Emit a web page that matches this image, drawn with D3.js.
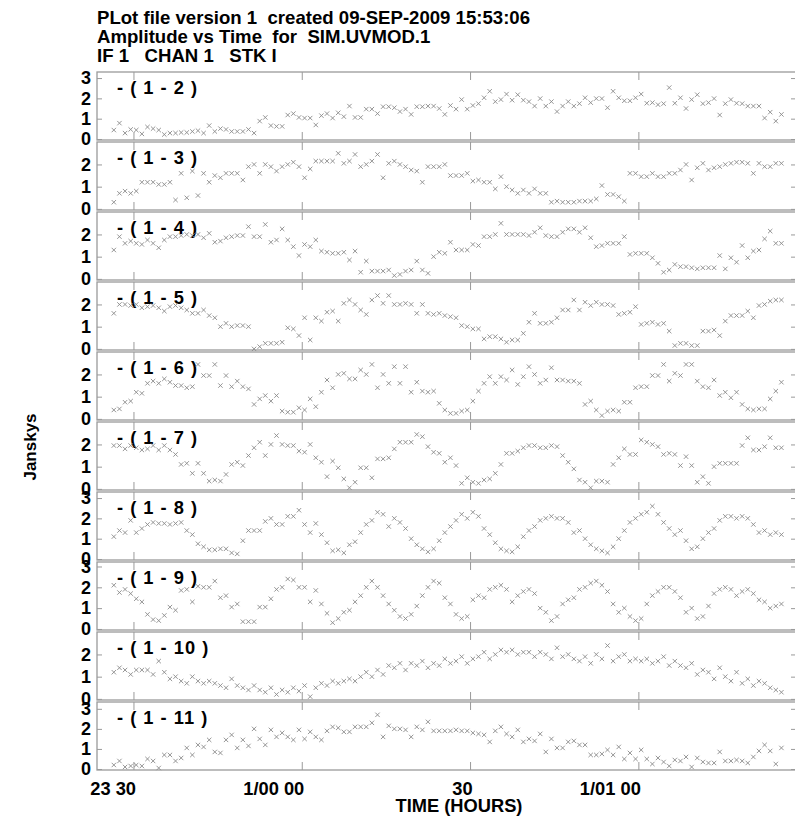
<!DOCTYPE html>
<html><head><meta charset="utf-8">
<script src="https://cdn.jsdelivr.net/npm/d3@7"></script>
<style>
body{margin:0;background:#fff}
text{font-family:"Liberation Sans",Arial,Helvetica,sans-serif;font-weight:bold;fill:#000}
</style>
</head><body><svg id="c" width="795" height="818"></svg>
<script>
const titleLines = [
  "PLot file version 1  created 09-SEP-2009 15:53:06",
  "Amplitude vs Time  for  SIM.UVMOD.1",
  "IF 1   CHAN 1   STK I"
];
const baselines = ["- ( 1 - 2 )","- ( 1 - 3 )","- ( 1 - 4 )","- ( 1 - 5 )","- ( 1 - 6 )","- ( 1 - 7 )","- ( 1 - 8 )","- ( 1 - 9 )","- ( 1 - 10 )","- ( 1 - 11 )"];
const panelMax = [3.2, 2.92, 2.92, 2.92, 2.92, 2.92, 3.2, 3.12, 2.92, 3.24];
const yMin = -0.05;
// time in minutes relative to 23:30
const timeStart = -6.5, timeEnd = 118.1;
const sampleStart = -3.5, sampleStep = 1;
const timeTicks = [0, 30, 60, 90];
const timeTickLabels = ["23 30", "1/00 00", "30", "1/01 00"];

const amp12 = [0.44,0.78,0.29,0.47,0.44,0.25,0.59,0.51,0.44,0.22,
0.29,0.29,0.32,0.32,0.37,0.41,0.29,0.66,0.37,0.51,
0.47,0.37,0.37,0.37,0.47,0.29,0.88,1.06,0.66,0.62,
0.62,1.18,1.25,1.06,1.03,1.03,0.69,1.15,1.25,1.03,
1.29,1.1,1.62,1.06,1.06,1.47,1.47,1.25,1.59,1.59,
1.54,1.35,1.47,1.21,1.59,1.59,1.62,1.62,1.5,1.21,
1.65,1.47,1.94,1.47,1.65,1.74,2.03,2.35,1.84,1.94,
2.21,1.91,2.18,1.91,1.84,1.62,1.99,1.62,1.84,1.35,
1.62,1.84,1.62,1.74,2.03,1.79,1.99,1.99,1.54,2.35,
2.03,1.88,1.88,2.03,2.21,1.76,1.79,1.69,1.74,2.53,
1.76,2.03,1.5,1.94,2.18,1.74,1.79,1.99,1.18,1.74,
1.94,1.76,1.74,1.62,1.62,1.62,1.03,1.32,0.88,1.21];
const amp13 = [0.3,0.7,0.8,0.7,0.8,1.2,1.2,1.2,1.1,1.1,
1.2,0.4,1.6,0.5,1.7,0.6,1.6,1.2,1.5,1.4,
1.6,1.6,1.6,1.3,1.9,2.0,1.6,2.0,1.9,1.7,
1.9,2.0,2.1,1.9,1.4,1.8,2.15,2.15,2.15,2.15,
2.5,2.05,2.15,2.45,1.9,2.0,2.15,2.45,1.4,2.05,
2.15,2.0,1.9,1.75,1.7,1.2,1.9,1.9,1.9,2.0,
1.5,1.5,1.5,1.6,1.25,1.3,1.2,1.2,0.9,1.45,
1.0,0.85,0.7,0.85,0.7,0.9,0.7,0.7,0.3,0.35,
0.3,0.3,0.3,0.35,0.35,0.35,0.45,1.05,0.65,0.65,
0.55,0.35,1.6,1.6,1.45,1.45,1.6,1.45,1.45,1.6,
1.6,1.75,2.0,1.3,1.85,2.05,1.75,1.85,1.9,2.0,
2.05,2.1,2.1,2.05,1.6,2.05,1.9,1.9,2.05,2.05];
const amp14 = [1.3,1.9,1.6,1.7,1.6,1.55,1.75,1.6,1.4,1.75,
1.9,1.9,1.95,2.0,1.95,2.0,1.85,2.05,1.65,1.7,
1.85,1.9,1.95,1.95,2.35,1.9,1.9,2.45,1.65,1.75,
2.25,1.75,1.45,1.05,1.55,1.45,1.75,1.25,1.2,1.15,
1.15,1.2,0.85,1.25,0.3,0.8,0.35,0.35,0.35,0.4,
0.15,0.2,0.35,0.4,0.8,0.4,0.25,1.0,1.2,1.15,
1.65,1.3,1.3,1.3,1.55,1.5,1.9,1.9,2.0,2.5,
2.0,2.0,2.0,2.0,1.95,2.1,2.3,1.95,1.9,1.9,
2.1,2.25,2.25,2.1,2.3,1.85,1.45,1.5,1.6,1.6,
1.6,1.9,1.1,1.15,1.15,1.15,0.95,0.7,0.3,0.4,
0.65,0.55,0.55,0.5,0.45,0.5,0.5,0.5,1.05,0.45,
0.95,0.75,1.5,0.95,1.25,1.3,1.8,2.15,1.6,1.6];
const amp15 = [1.6,2.0,2.0,1.95,2.0,1.85,1.9,1.95,1.85,1.7,
1.9,1.95,1.85,1.75,1.6,1.6,1.75,1.5,1.4,1.0,
1.15,1.0,1.05,1.05,1.0,0.0,0.1,0.25,0.25,0.25,
0.3,0.95,0.9,0.6,1.4,0.4,1.4,1.25,1.65,1.7,
1.25,2.05,2.2,2.0,1.75,1.55,2.2,2.4,2.05,2.4,
2.0,2.0,2.05,2.0,1.6,2.0,1.6,1.55,1.6,1.5,
1.45,1.4,1.05,1.0,0.9,0.9,0.45,0.55,0.55,0.45,
0.3,0.4,0.4,0.7,1.2,1.6,1.15,1.15,1.2,1.4,
1.75,1.75,2.2,1.75,2.1,1.95,2.1,2.0,2.0,1.95,
1.55,1.6,1.65,1.9,1.1,1.15,1.2,1.1,1.15,0.8,
0.15,0.25,0.25,0.15,0.15,0.8,0.8,0.85,0.6,1.25,
1.5,1.5,1.5,1.7,1.4,1.95,2.0,2.15,2.2,2.2];
const amp16 = [0.4,0.45,0.75,0.8,1.2,1.15,1.6,1.7,1.6,1.8,
1.65,1.5,1.5,1.4,1.45,2.45,1.95,1.95,2.45,1.5,
1.95,1.45,1.7,1.45,1.35,0.65,0.9,1.05,0.8,1.05,
0.35,0.3,0.3,0.5,0.4,0.9,0.55,1.2,1.75,1.4,
2.0,2.05,1.8,1.8,2.2,2.0,2.45,1.4,2.0,1.6,
2.35,1.6,2.35,1.2,1.65,1.25,1.2,1.25,0.7,0.4,
0.25,0.25,0.35,0.4,0.8,1.25,1.6,1.9,1.6,1.9,
1.75,2.2,1.55,1.9,2.35,2.0,1.6,1.75,2.3,1.75,
1.75,1.7,1.7,1.6,0.65,0.8,0.4,0.15,0.35,0.4,
0.35,0.75,0.75,1.4,1.45,1.45,1.95,1.95,2.45,1.7,
2.05,1.95,2.45,2.45,1.7,1.45,1.4,1.75,1.05,1.2,
0.95,1.2,0.65,0.45,0.4,0.45,0.45,0.9,1.25,1.65];
const amp17 = [1.95,1.95,1.8,1.95,1.85,1.75,1.8,1.95,1.75,1.95,
1.75,1.55,1.1,1.15,0.7,1.15,0.7,0.35,0.4,0.35,
0.65,1.1,1.2,1.05,1.5,1.85,2.1,1.5,2.0,2.4,
2.0,1.95,1.95,1.7,1.65,2.0,1.4,1.2,0.55,1.25,
0.95,0.45,0.05,0.3,0.95,0.95,0.5,1.35,1.35,1.4,
1.8,2.1,2.1,2.1,2.45,2.35,1.9,1.65,1.6,1.2,
1.4,1.05,0.25,0.5,0.3,0.25,0.4,0.45,0.7,1.1,
1.6,1.6,1.7,1.85,1.95,1.95,1.85,1.85,1.95,1.9,
1.5,1.2,0.9,0.4,0.3,0.05,0.35,0.35,0.3,1.1,
1.4,1.8,1.55,1.55,2.2,2.1,2.0,1.9,1.55,1.6,
1.55,1.05,1.45,1.05,0.3,0.55,0.25,1.0,1.15,1.15,
1.15,1.15,1.95,2.3,1.75,1.75,1.9,2.3,1.85,1.85];
const amp18 = [1.1,1.4,1.3,1.9,1.3,1.5,1.7,1.8,1.75,1.75,
1.7,1.75,1.8,1.4,1.2,0.75,0.6,0.45,0.45,0.5,
0.5,0.3,0.25,0.9,1.4,1.4,1.4,1.85,2.0,1.7,
1.7,2.1,2.1,2.4,1.7,1.3,1.75,1.2,0.8,0.4,
0.45,0.3,0.7,0.85,1.3,1.7,1.9,2.3,2.2,1.6,
2.0,1.8,1.5,1.0,0.7,0.5,0.35,0.5,0.9,1.3,
1.6,1.9,2.2,2.0,2.3,2.1,1.5,1.2,0.8,0.5,
0.4,0.35,0.6,1.1,1.4,1.6,1.9,2.0,2.1,2.0,
2.0,1.8,1.3,1.4,1.0,0.7,0.5,0.4,0.3,0.6,
1.0,1.4,1.8,2.0,2.2,2.3,2.6,2.2,1.8,1.5,
1.2,1.4,0.9,0.5,0.6,1.0,1.3,1.5,1.9,2.1,
2.1,2.0,2.1,2.0,1.7,1.3,1.4,1.2,1.3,1.2];
const amp19 = [2.1,1.75,1.9,1.7,1.45,1.3,0.7,0.45,0.4,0.65,
1.05,0.9,1.85,1.9,1.3,2.05,2.0,2.0,2.3,1.5,
1.6,1.05,1.2,0.35,0.35,0.35,1.05,1.05,1.45,1.9,
2.0,2.4,2.35,2.0,2.0,1.3,1.85,1.2,0.75,0.3,
0.5,0.8,0.9,1.3,1.6,2.0,2.3,2.0,1.6,1.2,
0.9,0.6,0.5,0.7,1.1,1.6,2.0,2.3,2.2,1.5,
1.2,0.7,0.5,0.6,1.4,1.6,1.5,1.9,2.0,2.1,
1.9,1.3,1.6,1.8,1.9,1.7,1.0,0.8,0.4,0.6,
1.2,1.4,1.5,1.9,2.0,2.2,2.3,2.1,1.8,1.2,
0.8,1.0,0.6,0.4,0.5,1.2,1.6,1.8,2.0,2.0,
1.8,1.5,0.8,1.0,0.5,0.6,1.1,1.7,1.9,2.0,
1.9,1.6,1.8,1.9,1.7,1.4,1.3,1.0,1.1,1.2];
const amp110 = [1.2,1.4,1.3,1.1,1.3,1.3,1.3,1.1,1.7,1.2,
0.9,1.0,0.8,0.7,1.0,0.8,0.7,0.8,0.7,0.6,
0.5,0.9,0.6,0.5,0.4,0.6,0.4,0.3,0.5,0.2,
0.4,0.3,0.5,0.35,0.6,0.1,0.5,0.7,0.6,0.8,
0.7,0.8,0.9,0.8,1.0,1.2,1.0,1.3,1.1,1.5,
1.4,1.6,1.3,1.6,1.5,1.7,1.4,1.6,1.5,1.8,
1.6,1.7,1.9,1.6,1.8,1.9,2.1,1.8,2.0,2.2,
2.1,2.2,2.0,2.1,2.1,1.9,2.1,2.0,1.8,2.3,
1.9,2.0,1.8,1.7,1.9,1.6,2.0,1.8,2.4,1.7,
1.9,2.0,1.7,1.8,1.7,1.8,1.6,1.7,1.9,1.5,
1.7,1.5,1.4,1.6,1.1,1.3,1.2,0.9,1.4,1.0,
0.8,1.2,0.7,0.9,0.6,0.8,0.7,0.5,0.4,0.3];
const amp111 = [0.2,0.4,0.1,0.15,0.2,0.15,0.5,0.4,0.05,0.7,
0.7,0.4,0.55,1.05,0.7,1.2,1.1,1.45,0.85,0.8,
1.45,1.7,1.05,1.45,1.15,2.0,1.5,1.2,1.95,1.6,
1.8,1.6,1.45,1.95,1.5,1.85,1.6,1.45,1.9,2.1,
2.05,1.85,1.85,2.1,2.1,2.1,2.3,2.7,1.6,2.15,
2.0,2.0,1.95,1.6,2.1,1.95,2.35,1.9,1.9,1.9,
1.9,1.95,1.9,1.9,1.8,1.75,1.7,1.35,1.9,2.1,
1.75,1.6,1.95,1.35,1.5,1.4,1.75,0.85,1.5,1.05,
1.05,1.35,1.4,1.2,1.2,0.7,0.7,0.75,0.95,0.7,
1.1,0.5,0.8,0.5,0.95,0.5,0.25,0.55,0.35,0.15,
0.45,0.4,0.6,0.1,0.55,0.35,0.3,0.3,0.85,0.4,
0.4,0.45,0.4,0.3,0.6,0.9,1.2,0.9,0.25,1.05];

const series = [amp12, amp13, amp14, amp15, amp16, amp17, amp18, amp19, amp110, amp111];

const W = 795, H = 818;
const left = 97, right = 796, top0 = 72, panelH = 70, innerH = 68;
const frameColor = "#9a9a9a";
const markColor = "#8a8a8a";

const svg = d3.select("#c");
svg.append("rect").attr("width", W).attr("height", H).attr("fill", "#fff");

const x = d3.scaleLinear().domain([timeStart, timeEnd]).range([left, right]);

titleLines.forEach((t, i) => {
  svg.append("text").attr("x", 97).attr("y", 24 + i * 19)
    .attr("font-size", 18.6).style("white-space", "pre").text(t);
});

series.forEach((vals, k) => {
  const T = top0 + k * panelH;
  const y = d3.scaleLinear().domain([yMin, panelMax[k]]).range([T + innerH, T + 2]);
  const g = svg.append("g");
  const yt = d3.range(0, Math.floor(panelMax[k]) + 1);

  g.append("rect").attr("x", left).attr("y", T).attr("width", right - left).attr("height", innerH)
    .attr("fill", "none").attr("stroke", frameColor).attr("stroke-width", 1.3);

  const ya = g.append("g").attr("transform", `translate(${left},0)`)
    .call(d3.axisLeft(y).tickValues(yt).tickFormat(d3.format("d")).tickSize(-5).tickPadding(6));
  ya.select(".domain").remove();
  ya.selectAll("line").attr("stroke", frameColor);
  ya.selectAll("text").attr("font-size", 18).attr("font-family", null).attr("fill", "#000");

  const yr = g.append("g").attr("transform", `translate(${right},0)`)
    .call(d3.axisRight(y).tickValues(yt).tickFormat("").tickSize(-5));
  yr.select(".domain").remove();
  yr.selectAll("line").attr("stroke", frameColor);

  const xt = g.append("g").attr("transform", `translate(0,${T})`)
    .call(d3.axisTop(x).tickValues(timeTicks).tickFormat("").tickSize(-8));
  xt.select(".domain").remove();
  xt.selectAll("line").attr("stroke", frameColor);

  const xb = g.append("g").attr("transform", `translate(0,${T + innerH})`)
    .call(d3.axisBottom(x).tickValues(timeTicks)
      .tickFormat(k === series.length - 1 ? ((d, i) => timeTickLabels[i]) : "")
      .tickSize(-8).tickPadding(12));
  xb.select(".domain").remove();
  xb.selectAll("line").attr("stroke", frameColor);
  xb.selectAll("text").attr("font-size", 18.3).attr("font-family", null).attr("fill", "#000")
    .attr("text-anchor", "end").attr("dx", 2).style("white-space", "pre");

  g.append("text").attr("x", 117).attr("y", T + 22).attr("font-size", 18.3)
    .attr("letter-spacing", 1).style("white-space", "pre").text(baselines[k]);

  g.append("g").selectAll("path").data(vals).join("path")
    .attr("transform", (d, i) => `translate(${x(sampleStart + i * sampleStep)},${y(d)})`)
    .attr("d", "M-2.2,-2.2L2.2,2.2M-2.2,2.2L2.2,-2.2")
    .attr("stroke", markColor).attr("stroke-width", 0.9).attr("fill", "none");
});

svg.append("text").attr("x", 459).attr("y", 812).attr("text-anchor", "middle")
  .attr("font-size", 18.3).text("TIME (HOURS)");
svg.append("text").attr("transform", "translate(36,447) rotate(-90)").attr("text-anchor", "middle")
  .attr("font-size", 17).text("Janskys");
</script>
</body></html>
